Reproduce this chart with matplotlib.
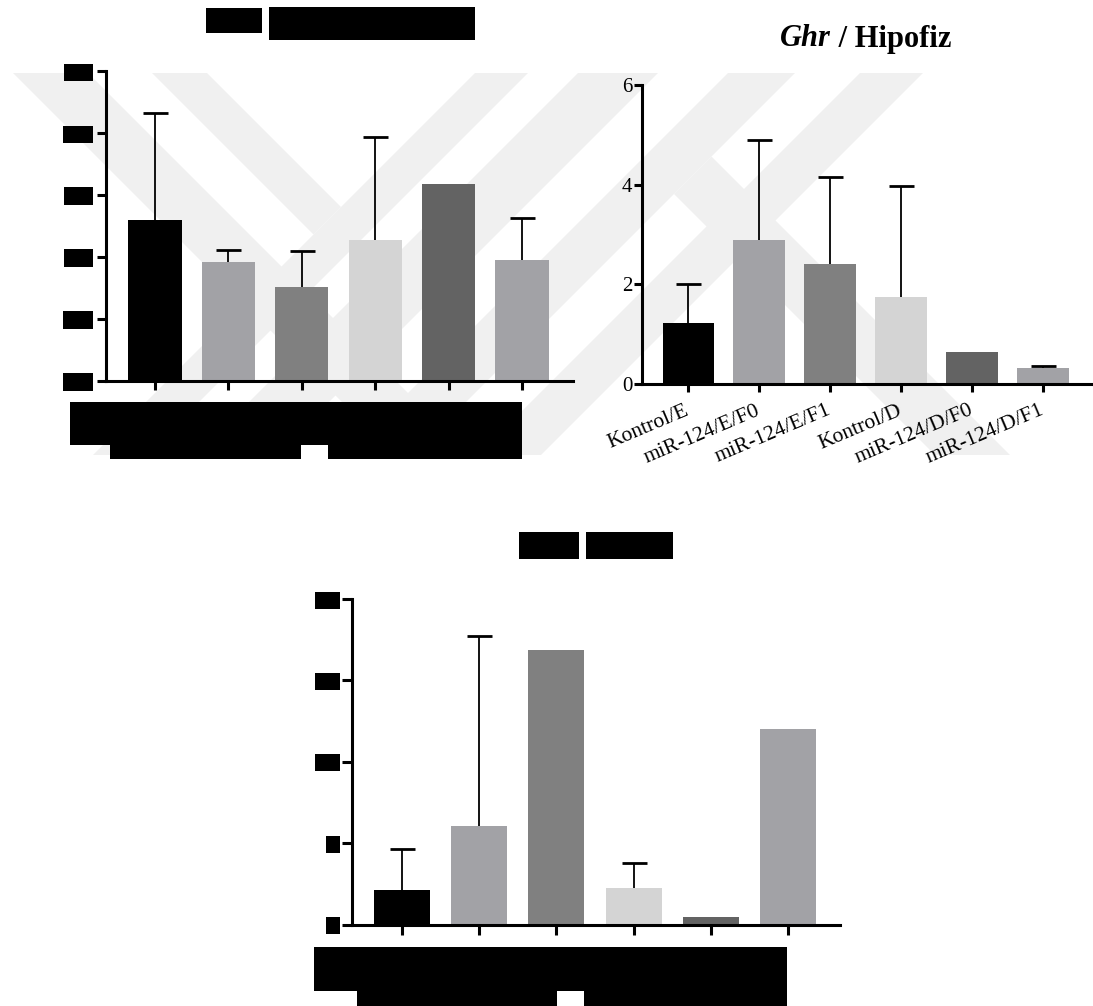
import numpy as np
import matplotlib
matplotlib.use("Agg")
import matplotlib.pyplot as plt
from matplotlib.patches import Polygon, Rectangle

plt.rcParams['font.family'] = ['Liberation Serif', 'DejaVu Serif']

# ---------------------------------------------------------------- data
groups = ['Kontrol/E', 'miR-124/E/F0', 'miR-124/E/F1',
          'Kontrol/D', 'miR-124/D/F0', 'miR-124/D/F1']

# upper-left panel (title and labels blacked out)
left_mean = [1.30, 0.96, 0.76, 1.135, 1.585, 0.975]
left_sd = [0.86, 0.10, 0.285, 0.835, 0.0, 0.34]
left_ticks = [0.0, 0.5, 1.0, 1.5, 2.0, 2.5]
left_ticklabels = ['0.0', '0.5', '1.0', '1.5', '2.0', '2.5']

# Ghr / Hipofiz
ghr_mean = [1.21, 2.89, 2.40, 1.75, 0.64, 0.32]
ghr_sd = [0.80, 2.00, 1.75, 2.22, 0.0, 0.035]
ghr_ticks = [0, 2, 4, 6]
ghr_ticklabels = ['0', '2', '4', '6']

# lower panel (title and labels blacked out)
low_mean = [2.15, 6.08, 16.86, 2.25, 0.47, 12.0]
low_sd = [2.48, 11.66, 0.0, 1.52, 0.0, 0.0]
low_ticks = [0, 5, 10, 15, 20]
low_ticklabels = ['0', '5', '10', '15', '20']

bar_colors = ['#000000', '#a2a2a6', '#808080', '#d4d4d4', '#636363', '#a2a2a6']

# ---------------------------------------------------------------- figure
W, H, DPI = 1093, 1006, 100
fig = plt.figure(figsize=(W / DPI, H / DPI), dpi=DPI, facecolor='white')


def fx(x):
    return x / W


def fy(y):
    return 1 - y / H


def px_axes(x0, y_top, x1, y_bot):
    return fig.add_axes([fx(x0), fy(y_bot), (x1 - x0) / W, (y_bot - y_top) / H])


# light background emblem made of diagonal stripes
stripe_color = '#f0f0f0'
stripes = [
    [(13, 73), (88, 73), (470, 455), (395, 455)],
    [(152, 73), (207, 73), (341, 207), (313.5, 234.5)],
    [(475, 73), (528, 73), (146, 455), (93, 455)],
    [(578, 73), (658, 73), (276, 455), (196, 455)],
    [(728, 73), (795, 73), (413, 455), (346, 455)],
    [(860, 73), (923, 73), (541, 455), (478, 455)],
    [(711.5, 156.5), (1010, 455), (935, 455), (674, 194)],
]
for pts in stripes:
    fig.add_artist(Polygon([(fx(x), fy(y)) for x, y in pts], closed=True,
                           transform=fig.transFigure, facecolor=stripe_color,
                           edgecolor='none', zorder=-5))

LW = 2.2


def bar_panel(ax, means, sds, ticks, ticklabels, xlim, ticklen, label_size,
              label_pad):
    x = np.arange(len(groups))
    means = np.asarray(means)
    sds = np.asarray(sds)
    ax.set_facecolor('none')
    ax.bar(x, means, width=0.725, color=bar_colors, zorder=2)
    # upper error bars only: stem from the mean, cap at mean + SD
    idx = np.flatnonzero(sds > 0)
    ax.vlines(x[idx], means[idx], means[idx] + sds[idx], color='black',
              linewidth=1.3, zorder=3)
    ax.plot(x[idx], means[idx] + sds[idx], linestyle='none', marker='_',
            markersize=18, markeredgewidth=2, color='black', zorder=3)
    ax.set_xlim(*xlim)
    ax.set_ylim(ticks[0], ticks[-1])
    for s in ('top', 'right'):
        ax.spines[s].set_visible(False)
    for s in ('left', 'bottom'):
        ax.spines[s].set_linewidth(LW)
        ax.spines[s].set_capstyle('projecting')
    ax.set_xticks(x)
    ax.set_yticks(ticks)
    ax.set_yticklabels(ticklabels, fontsize=label_size)
    ax.tick_params(axis='both', direction='out', length=ticklen, width=LW,
                   color='black')
    ax.tick_params(axis='y', pad=label_pad)
    return ax


# ---- upper-left panel
ax1 = px_axes(106, 71, 573, 381)
bar_panel(ax1, left_mean, left_sd, left_ticks, left_ticklabels,
          (-0.668, 5.695), 6.2, 15.5, 4.0)
ax1.tick_params(axis='x', labelbottom=False)

# ---- Ghr / Hipofiz
ax2 = px_axes(642, 85, 1093, 383.7)
bar_panel(ax2, ghr_mean, ghr_sd, ghr_ticks, ghr_ticklabels,
          (-0.653, 5.708), 5.8, 15, 1.0)
ax2.set_xticklabels(groups, fontsize=15.5, rotation=23, ha='right',
                    va='center', rotation_mode='anchor')
ax2.tick_params(axis='x', pad=13)

# ---- lower panel
ax3 = px_axes(351.6, 599, 840, 924.5)
bar_panel(ax3, low_mean, low_sd, low_ticks, low_ticklabels,
          (-0.653, 5.674), 7.0, 16, 2.5)
ax3.tick_params(axis='x', labelbottom=False)

# ---- title of the Ghr panel: italic gene symbol, upright tissue name
t1 = fig.text(0, 0, 'Ghr', fontsize=22, fontweight='bold',
              fontstyle='italic', va='baseline')
t2 = fig.text(0, 0, ' / Hipofiz', fontsize=22, fontweight='bold',
              va='baseline')

fig.canvas.draw()
renderer = fig.canvas.get_renderer()
w1 = t1.get_window_extent(renderer).width
w2 = t2.get_window_extent(renderer).width
x_start = 866 - (w1 + w2) / 2
t1.set_position((fx(x_start), fy(46.5)))
t2.set_position((fx(x_start + w1), fy(46.5)))


def black_box(x0, y0, x1, y1):
    """Solid black block given in pixel coordinates (origin top-left)."""
    fig.add_artist(Rectangle((fx(x0), fy(y1)), (x1 - x0) / W, (y1 - y0) / H,
                             transform=fig.transFigure, facecolor='black',
                             edgecolor='none', zorder=10))


# blacked-out tick values on the two redacted panels
for ax, ticks in ((ax1, left_ticks), (ax3, low_ticks)):
    for lab, t in zip(ax.get_yticklabels(), ticks):
        bb = lab.get_window_extent(renderer)
        cy = H - ax.transData.transform((0, t))[1] + 1.0
        black_box(bb.x0 - 1.5, cy - 8.5, bb.x1 + 1.5, cy + 8.5)

# blacked-out titles and category labels
black_box(206, 8, 262, 33)
black_box(269, 7, 475, 40)
black_box(70, 402, 522, 445)
black_box(110, 445, 301, 459)
black_box(328, 445, 522, 459)

black_box(519, 532, 579, 559)
black_box(586, 532, 673, 559)
black_box(314, 947, 787, 991)
black_box(357, 991, 557, 1006)
black_box(584, 991, 787, 1006)

fig.savefig('out.png', dpi=DPI, facecolor='white')
